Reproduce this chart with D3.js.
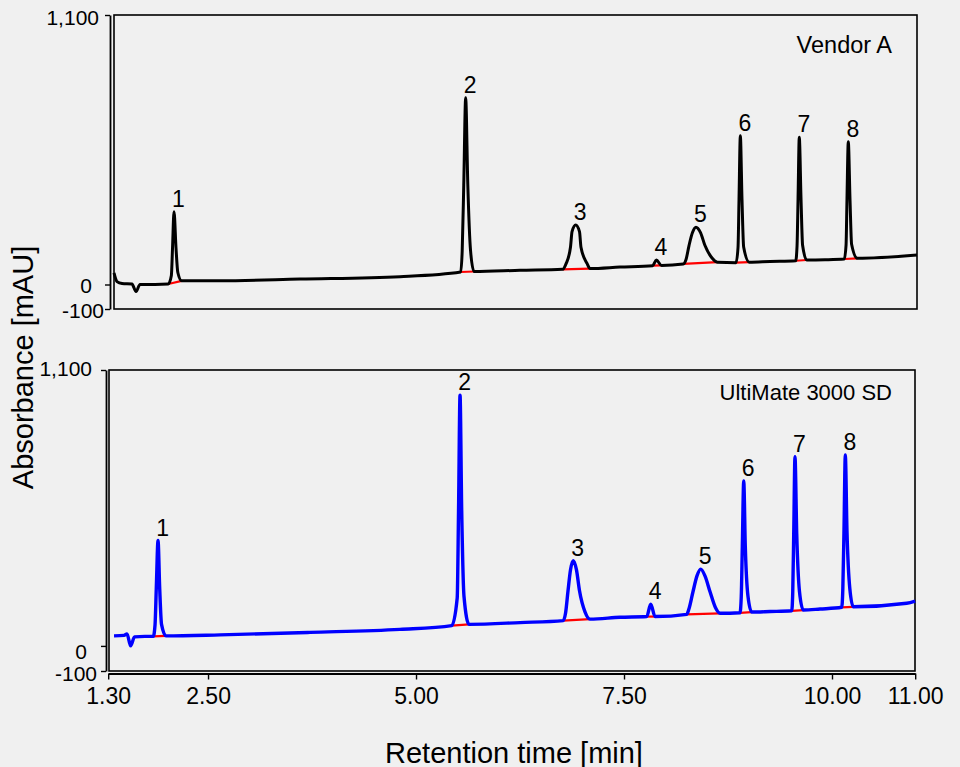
<!DOCTYPE html>
<html><head><meta charset="utf-8">
<script src="https://cdn.jsdelivr.net/npm/d3@7"></script>
<style>
html,body{margin:0;padding:0;background:#f0f0f0;}
svg{display:block;font-family:"Liberation Sans",Arial,sans-serif;}
</style></head><body>
<svg id="chart" width="960" height="767"></svg>
<script>
// ---------- data ----------
const xTicks = [1.3, 2.5, 5.0, 7.5, 10.0, 11.0];
const xTickLabels = ["1.30", "2.50", "5.00", "7.50", "10.00", "11.00"];
const yTicks = [-100, 0, 1100];
const yTickLabels = ["-100", "0", "1,100"];
const peakNumbers = ["1", "2", "3", "4", "5", "6", "7", "8"];

// Vendor A trace (time [min], absorbance [mAU])
const topTimes = [1.300, 1.336, 1.397, 1.517, 1.566, 1.614, 1.795,
  1.956, 1.993, 2.007, 2.025, 2.049, 2.071, 2.118,
  2.580, 3.547, 4.755,
  5.488, 5.506, 5.525, 5.548, 5.574, 5.607, 5.649,
  6.204,
  6.720, 6.760, 6.814, 6.833, 6.877, 6.923, 6.941, 7.014, 7.050,
  7.412,
  7.807, 7.851, 7.914,
  8.177, 8.210, 8.246, 8.288, 8.330, 8.385, 8.439, 8.524, 8.588,
  8.814, 8.838, 8.850, 8.866, 8.886, 8.906, 8.974,
  9.224,
  9.535, 9.551, 9.563, 9.578, 9.599, 9.618, 9.668,
  9.889,
  10.122, 10.143, 10.154, 10.170, 10.191, 10.210, 10.279,
  11.0];
const topSignal = [47, 12, 4, 2, -29, 0, 0,
  2, 37, 149, 297, 149, 49, 15,
  15, 22, 32,
  51, 136, 406, 762, 406, 138, 53,
  58,
  62, 84, 152, 216, 243, 216, 152, 86, 65,
  71,
  77, 100, 78,
  84, 102, 159, 212, 234, 212, 159, 108, 91,
  89, 151, 348, 607, 348, 153, 91,
  94,
  97, 157, 349, 601, 349, 160, 100,
  101,
  104, 161, 344, 583, 344, 164, 107,
  120];

// UltiMate 3000 SD trace
const bottomTimes = [1.370, 1.490, 1.526, 1.570, 1.616, 1.742,
  1.842, 1.863, 1.878, 1.899, 1.919, 1.941, 1.995,
  2.644, 3.726, 4.807,
  5.429, 5.495, 5.511, 5.529, 5.549, 5.577, 5.637,
  6.250,
  6.770, 6.797, 6.827, 6.857, 6.890, 6.928, 6.965, 7.031, 7.091,
  7.452,
  7.773, 7.821, 7.873,
  8.254, 8.281, 8.329, 8.377, 8.422, 8.473, 8.534, 8.600, 8.654,
  8.894, 8.909, 8.922, 8.939, 8.958, 8.990, 9.035,
  9.255,
  9.516, 9.528, 9.540, 9.555, 9.576, 9.609, 9.655,
  9.856,
  10.117, 10.130, 10.144, 10.160, 10.180, 10.214, 10.256,
  10.898, 11.0];
const bottomSignal = [40, 42, 48, 0, 36, 38,
  38, 84, 229, 420, 229, 86, 40,
  44, 54, 66,
  81, 191, 540, 1000, 540, 196, 86,
  93,
  101, 130, 220, 304, 340, 304, 220, 136, 107,
  114,
  117, 166, 117,
  126, 148, 216, 279, 306, 279, 216, 152, 130,
  132, 195, 395, 658, 395, 198, 135,
  137,
  140, 214, 447, 754, 447, 217, 143,
  147,
  154, 227, 458, 761, 458, 229, 156,
  170, 179];

// peak apexes
const topApexTime = [2.025, 5.548, 6.877, 7.851, 8.330, 8.866, 9.578, 10.170];
const topApexSignal = [297, 762, 243, 100, 234, 607, 601, 583];
const bottomApexTime = [1.899, 5.529, 6.890, 7.821, 8.422, 8.939, 9.555, 10.160];
const bottomApexSignal = [420, 1000, 340, 166, 306, 658, 754, 761];

// integration baselines (start/end of each peak)
const topStartTime = [1.956, 5.488, 6.720, 7.807, 8.177, 8.814, 9.535, 10.122];
const topStartSignal = [2, 51, 62, 77, 84, 89, 97, 104];
const topEndTime = [2.118, 5.649, 7.050, 7.914, 8.588, 8.974, 9.668, 10.279];
const topEndSignal = [15, 53, 65, 78, 91, 91, 100, 107];
const bottomStartTime = [1.842, 5.429, 6.770, 7.773, 8.254, 8.894, 9.516, 10.117];
const bottomStartSignal = [38, 81, 101, 117, 126, 132, 140, 154];
const bottomEndTime = [1.995, 5.637, 7.091, 7.873, 8.654, 9.035, 9.655, 10.256];
const bottomEndSignal = [40, 86, 107, 117, 130, 135, 143, 156];

// ---------- drawing ----------
const svg = d3.select("#chart");
svg.append("rect").attr("width", 960).attr("height", 767).attr("fill", "#f0f0f0");

const panels = [
  { name: "Vendor A", nameSize: 23.5, color: "#000000", width: 3,
    times: topTimes, signal: topSignal,
    apexT: topApexTime, apexV: topApexSignal,
    sT: topStartTime, sV: topStartSignal, eT: topEndTime, eV: topEndSignal,
    box: [114, 917, 15, 309], axisX: 110, xRange: [114, 917], yRange: [309, 15],
    labelShift: { "1100": [-11, 2.5], "0": [-18, 1.5], "-100": [-6, 1.5] },
    titleY: 53, xAxis: false },
  { name: "UltiMate 3000 SD", nameSize: 22, color: "#0000ff", width: 3.4,
    times: bottomTimes, signal: bottomSignal,
    apexT: bottomApexTime, apexV: bottomApexSignal,
    sT: bottomStartTime, sV: bottomStartSignal, eT: bottomEndTime, eV: bottomEndSignal,
    box: [109, 915, 370, 671], axisX: 106, xRange: [108.2, 915.2], yRange: [671, 370],
    labelShift: { "1100": [-14, -1.5], "0": [-19, 6], "-100": [-9, 2.5] },
    titleY: 400, xAxis: true }
];

panels.forEach(p => {
  const x = d3.scaleLinear().domain([1.3, 11.0]).range(p.xRange);
  const y = d3.scaleLinear().domain([-100, 1100]).range(p.yRange);
  const g = svg.append("g");

  // frame
  g.append("rect")
    .attr("x", p.box[0]).attr("y", p.box[2])
    .attr("width", p.box[1] - p.box[0]).attr("height", p.box[3] - p.box[2])
    .attr("fill", "none").attr("stroke", "#000").attr("stroke-width", 1.6);

  // y axis
  const ya = g.append("g").attr("transform", `translate(${p.axisX},0)`)
    .call(d3.axisLeft(y).tickValues(yTicks).tickFormat((d, i) => yTickLabels[i])
      .tickSize(5).tickSizeOuter(0));
  ya.select(".domain").attr("stroke-width", 1.8);
  ya.selectAll(".tick line").attr("stroke-width", 1.4);
  ya.selectAll(".tick text")
    .attr("font-size", 21).attr("font-family", "Liberation Sans, Arial, sans-serif").attr("fill", "#000")
    .attr("x", d => p.labelShift[String(d)][0])
    .attr("dy", d => (0.32 * 21 + p.labelShift[String(d)][1]) + "px");

  // x axis (bottom panel only)
  if (p.xAxis) {
    const xa = g.append("g").attr("transform", "translate(0,673.5)")
      .call(d3.axisBottom(x).tickValues(xTicks).tickFormat((d, i) => xTickLabels[i])
        .tickSize(6).tickSizeOuter(0).tickPadding(8));
    xa.select(".domain").attr("stroke-width", 1.8);
    xa.selectAll(".tick line").attr("stroke-width", 1.4);
    xa.selectAll(".tick text").attr("font-size", 23)
      .attr("font-family", "Liberation Sans, Arial, sans-serif").attr("fill", "#000");
  }

  // integration baselines (red)
  g.selectAll(".base").data(p.sT).enter().append("line")
    .attr("x1", (d, i) => x(p.sT[i])).attr("y1", (d, i) => y(p.sV[i]))
    .attr("x2", (d, i) => x(p.eT[i])).attr("y2", (d, i) => y(p.eV[i]))
    .attr("stroke", "#ff0000").attr("stroke-width", 2.2);

  // trace
  const pts = p.times.map((t, i) => [t, p.signal[i]]);
  g.append("path").datum(pts)
    .attr("d", d3.line().x(d => x(d[0])).y(d => y(d[1])).curve(d3.curveMonotoneX))
    .attr("fill", "none").attr("stroke", p.color).attr("stroke-width", p.width)
    .attr("stroke-linejoin", "round");

  // peak labels
  g.selectAll(".plab").data(peakNumbers).enter().append("text")
    .attr("x", (d, i) => x(p.apexT[i]) + 4.5)
    .attr("y", (d, i) => y(p.apexV[i]) - 5)
    .attr("text-anchor", "middle").attr("font-size", 23).attr("fill", "#000")
    .text(d => d);

  // panel title
  g.append("text").attr("x", 892).attr("y", p.titleY)
    .attr("text-anchor", "end").attr("font-size", p.nameSize).attr("fill", "#000")
    .text(p.name);
});

// axis titles
svg.append("text").attr("transform", "translate(33,367.5) rotate(-90)")
  .attr("text-anchor", "middle").attr("font-size", 29).attr("fill", "#000")
  .text("Absorbance [mAU]");
svg.append("text").attr("x", 514).attr("y", 762.5)
  .attr("text-anchor", "middle").attr("font-size", 29).attr("fill", "#000")
  .text("Retention time [min]");
</script>
</body></html>
